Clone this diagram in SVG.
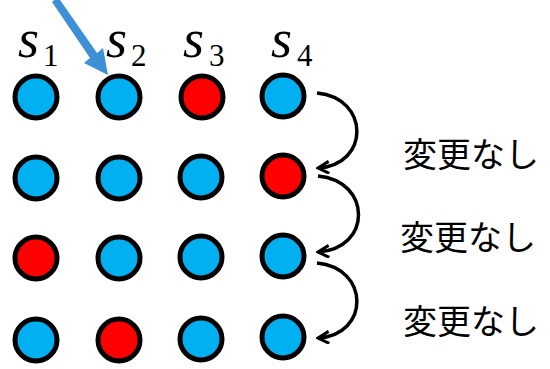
<svg xmlns="http://www.w3.org/2000/svg" width="550" height="369" viewBox="0 0 550 369">
<style>
.b{fill:#00b0f0;stroke:#000;stroke-width:5}
.r{fill:#ff0000;stroke:#000;stroke-width:5}
.c{fill:none;stroke:#000;stroke-width:3.5}
.s{font-family:"Liberation Serif",serif;font-style:italic;font-size:54px;fill:#000}
.n{font-family:"Liberation Serif",serif;font-size:31px;fill:#000}
.j{font-family:"Noto Sans CJK JP",sans-serif;font-size:34px;fill:#000}
</style>
<defs>
<marker id="ah" viewBox="0 0 14 14" refX="12" refY="7" markerWidth="14" markerHeight="14" markerUnits="userSpaceOnUse" orient="auto">
<path d="M1,1 L12,7 L1,13" fill="none" stroke="#000" stroke-width="3"/>
</marker>
</defs>
<g id="labels">
<text x="18" y="57" class="s">s</text><text x="43" y="66" class="n">1</text>
<text x="106" y="57" class="s">s</text><text x="131" y="66" class="n">2</text>
<text x="183" y="57" class="s">s</text><text x="209" y="66" class="n">3</text>
<text x="271" y="57" class="s">s</text><text x="297" y="66" class="n">4</text>
</g>
<g id="pointer">
<path d="M52,2 L58,-3 L97,53 L103,48 L108,75 L84,63 L90,58 Z" fill="#3d8fd6"/>
</g>
<g id="row1">
<circle cx="36" cy="97" r="21" class="b"/>
<circle cx="119" cy="97" r="21" class="b"/>
<circle cx="202" cy="97" r="21" class="r"/>
<circle cx="283" cy="96" r="21" class="b"/>
</g>
<g id="row2">
<circle cx="36" cy="178" r="21" class="b"/>
<circle cx="119" cy="178" r="21" class="b"/>
<circle cx="201" cy="177" r="21" class="b"/>
<circle cx="283" cy="176" r="21" class="r"/>
</g>
<g id="row3">
<circle cx="36" cy="258" r="21" class="r"/>
<circle cx="119" cy="258" r="21" class="b"/>
<circle cx="201" cy="257" r="21" class="b"/>
<circle cx="283" cy="256" r="21" class="b"/>
</g>
<g id="row4">
<circle cx="36" cy="340" r="21" class="b"/>
<circle cx="119" cy="340" r="21" class="r"/>
<circle cx="201" cy="339" r="21" class="b"/>
<circle cx="283" cy="337" r="21" class="b"/>
</g>
<g id="connectors">
<path d="M317,93 C370,98 370,165 318,168" class="c" marker-end="url(#ah)"/>
<path d="M318,176 C372,181 372,249 318,252" class="c" marker-end="url(#ah)"/>
<path d="M317,263 C370,268 370,335 318,338" class="c" marker-end="url(#ah)"/>
</g>
<g id="notes">
<text x="403" y="167" class="j">変更なし</text>
<text x="400" y="250" class="j">変更なし</text>
<text x="403" y="334" class="j">変更なし</text>
</g>
</svg>
